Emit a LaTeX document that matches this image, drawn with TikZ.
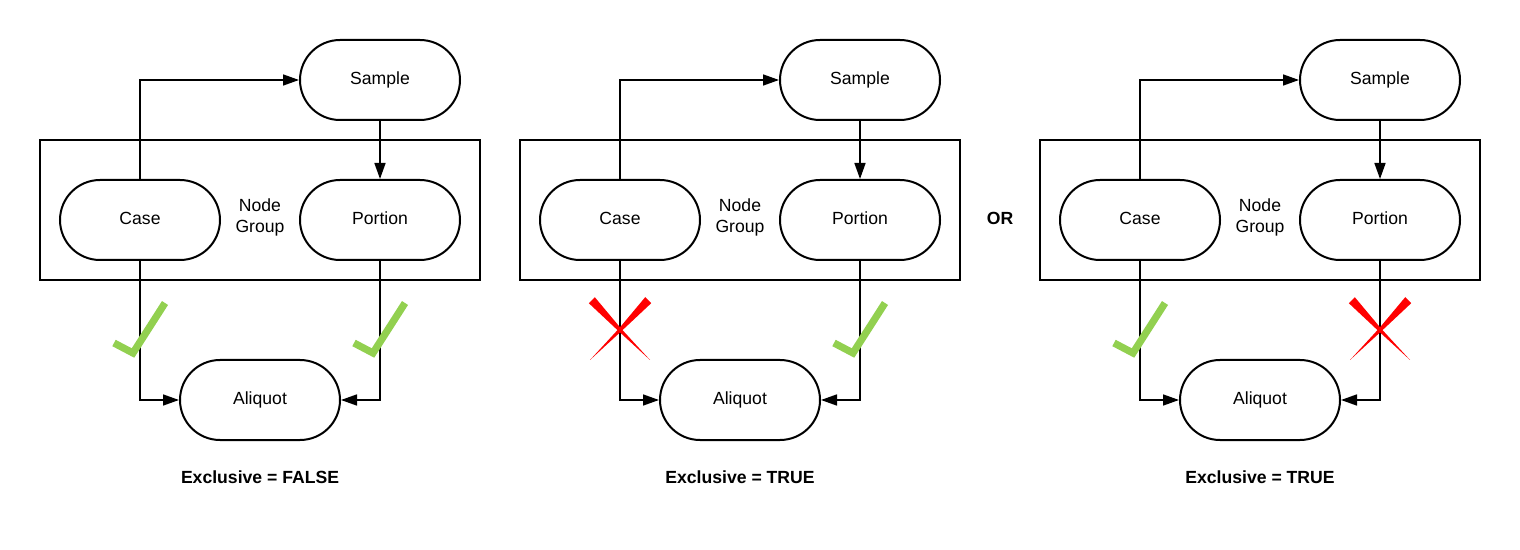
\documentclass[tikz,border=0pt]{standalone}
\usepackage{fontspec}
\setmainfont{Liberation Sans}
\usetikzlibrary{positioning,arrows.meta}
\definecolor{okgreen}{RGB}{146,208,80}
\definecolor{nored}{RGB}{255,0,0}

\tikzset{
  block/.style={draw,line width=1pt,rounded corners=20pt,minimum width=80pt,
                minimum height=40pt,text height=1.6ex,text depth=0.7ex,
                font=\fontsize{8.8}{10.5}\selectfont},
  group/.style={draw,line width=0.8pt,minimum width=220pt,minimum height=70pt},
  txt/.style={align=center,font=\fontsize{8.8}{10.5}\selectfont},
  link/.style={-{Triangle[length=8pt,width=5.5pt]},line width=0.8pt},
  tick/.pic={\draw[okgreen,line width=3.6pt] (-13pt,-6.5pt) -- (-3.5pt,-11.5pt) -- (12.5pt,13.5pt);},
  cross/.pic={
    \fill[nored] (-12.6pt,16.4pt) -- (-15.6pt,13.4pt) -- (-1pt,-0.3pt) -- (15pt,-15pt) -- (0.3pt,1pt) -- cycle;
    \fill[nored] (12.6pt,16.4pt) -- (15.6pt,13.4pt) -- (1pt,-0.3pt) -- (-15pt,-15pt) -- (-0.3pt,1pt) -- cycle;},
}

\begin{document}
\begin{tikzpicture}[x=0.5pt,y=-0.5pt,node distance=70pt,on grid]
   \useasboundingbox (0,0) rectangle (1520,550);
   \foreach \dx/\i/\lab in {0/a/FALSE,480/b/TRUE,1000/c/TRUE} {
     \begin{scope}[xshift=\dx*0.5pt]
       \node[group] (grp\i) at (260,210) {};
       \node[block] (sample\i) at (380,80) {Sample};
       \node[block] (portion\i) [below=of sample\i] {Portion};
       \node[block] (case\i) [left=120pt of portion\i] {Case};
       \node[txt] (ng\i) at (260,217) {Node\\Group};
       \node[block] (aliquot\i) [below right=90pt and 60pt of case\i] {Aliquot};
       \node[txt,font=\fontsize{8.8}{10.5}\selectfont\bfseries] (cap\i) at (260,477) {Exclusive = \lab};
       \draw[link] (case\i.north) |- (sample\i.west);
       \draw[link] (sample\i.south) -- (portion\i.north);
       \draw[link] (case\i.south) |- (aliquot\i.west);
       \draw[link] (portion\i.south) |- (aliquot\i.east);
     \end{scope}
   }
   \node[txt,font=\fontsize{8.8}{10.5}\selectfont\bfseries] (or) at (1000,218) {OR};
   % marks on the links into Aliquot
   \pic at (140,330) {tick};
   \pic at (380,330) {tick};
   \pic at (620,330) {cross};
   \pic at (860,330) {tick};
   \pic at (1140,330) {tick};
   \pic at (1380,330) {cross};
\end{tikzpicture}
\end{document}
